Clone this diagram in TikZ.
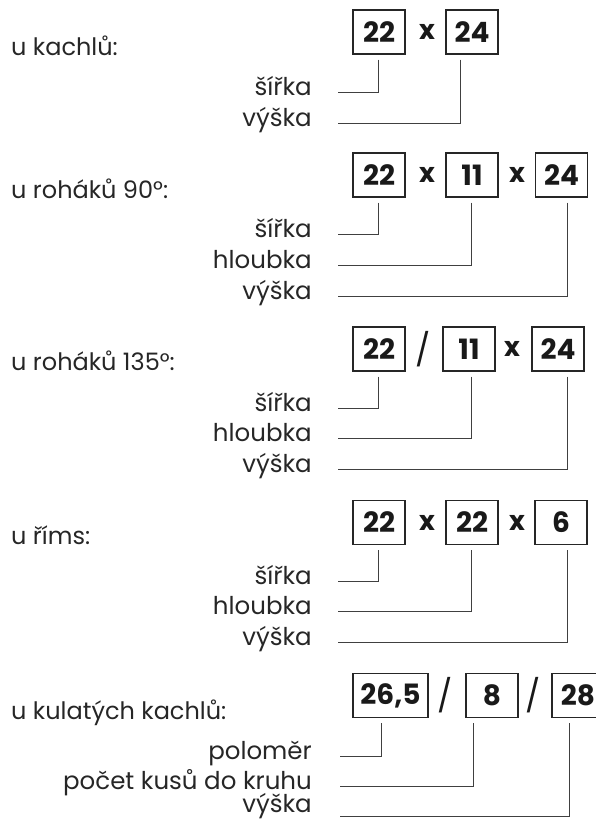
\documentclass[tikz,border=0pt]{standalone}
\usepackage{fontspec}
\setmainfont{Poppins}
\usetikzlibrary{calc}
\begin{document}
\begin{tikzpicture}[x=1pt,y=-1pt,
  val/.style={draw=black!85,line width=1.2pt,minimum width=52pt,minimum height=44pt,inner sep=0pt,font=\fontsize{28}{28}\selectfont\bfseries,text=black!90},
  op/.style={font=\fontsize{27}{27}\selectfont\bfseries,text=black!90,inner sep=0pt},
  sl/.style={font=\fontsize{32}{32}\selectfont,text=black!90,inner sep=0pt},
  head/.style={anchor=base west,font=\fontsize{24}{24}\selectfont,text=black!85,inner sep=0pt},
  lab/.style={anchor=base east,font=\fontsize{24.5}{24.5}\selectfont,text=black!85,inner sep=0pt},
  lead/.style={draw=black!75,line width=0.9pt}]
\useasboundingbox (0,0) rectangle (595,819);

% ---- section 1
\node[head] (h1) at (11,55) {u kachlů:};
\node[val] (a1) at (379,32) {22};
\node[op]  (ax1) at (427,32) {x};
\node[val] (a2) at (472,32) {24};
\node[lab] (al1) at (312,95) {šířka};
\node[lab] (al2) at (312,126) {výška};
\coordinate (ak1) at (378,92);  \coordinate (ae1) at (338,92);
\coordinate (ak2) at (460,123); \coordinate (ae2) at (338,123);
\draw[lead] ($(ak1 |- a1.south)+(0,5)$) -- (ak1) -- (ae1);
\draw[lead] ($(ak2 |- a2.south)+(0,5)$) -- (ak2) -- (ae2);

% ---- section 2
\node[head] (h2) at (11,198) {u roháků 90°:};
\node[val] (b1) at (379,175) {22};
\node[op]  (bx1) at (427,175) {x};
\node[val] (b2) at (472,175) {11};
\node[op]  (bx2) at (517,175) {x};
\node[val] (b3) at (561.5,175) {24};
\node[lab] (bl1) at (312,237) {šířka};
\node[lab] (bl2) at (312,268) {hloubka};
\node[lab] (bl3) at (312,299) {výška};
\coordinate (bk1) at (378,234); \coordinate (be1) at (338,234);
\coordinate (bk2) at (471,265); \coordinate (be2) at (338,265);
\coordinate (bk3) at (567,296); \coordinate (be3) at (338,296);
\draw[lead] ($(bk1 |- b1.south)+(0,5)$) -- (bk1) -- (be1);
\draw[lead] ($(bk2 |- b2.south)+(0,5)$) -- (bk2) -- (be2);
\draw[lead] ($(bk3 |- b3.south)+(0,5)$) -- (bk3) -- (be3);

% ---- section 3
\node[head] (h3) at (11,370) {u roháků 135°:};
\node[val] (c1) at (379,349) {22};
\node[sl]  (cx1) at (423,349) {/};
\node[val] (c2) at (469,349) {11};
\node[op]  (cx2) at (512,349) {x};
\node[val] (c3) at (558,349) {24};
\node[lab] (cl1) at (312,411) {šířka};
\node[lab] (cl2) at (312,441) {hloubka};
\node[lab] (cl3) at (312,472) {výška};
\coordinate (ck1) at (378,408); \coordinate (ce1) at (338,408);
\coordinate (ck2) at (471,438); \coordinate (ce2) at (338,438);
\coordinate (ck3) at (567,469); \coordinate (ce3) at (338,469);
\draw[lead] ($(ck1 |- c1.south)+(0,5)$) -- (ck1) -- (ce1);
\draw[lead] ($(ck2 |- c2.south)+(0,5)$) -- (ck2) -- (ce2);
\draw[lead] ($(ck3 |- c3.south)+(0,5)$) -- (ck3) -- (ce3);

% ---- section 4
\node[head] (h4) at (11,544) {u říms:};
\node[val] (d1) at (379,522.5) {22};
\node[op]  (dx1) at (427,522.5) {x};
\node[val] (d2) at (472,522.5) {22};
\node[op]  (dx2) at (517,522.5) {x};
\node[val] (d3) at (561,522.5) {6};
\node[lab] (dl1) at (312,584) {šířka};
\node[lab] (dl2) at (312,614) {hloubka};
\node[lab] (dl3) at (312,645) {výška};
\coordinate (dk1) at (378,581); \coordinate (de1) at (338,581);
\coordinate (dk2) at (471,611); \coordinate (de2) at (338,611);
\coordinate (dk3) at (567,642); \coordinate (de3) at (338,642);
\draw[lead] ($(dk1 |- d1.south)+(0,5)$) -- (dk1) -- (de1);
\draw[lead] ($(dk2 |- d2.south)+(0,5)$) -- (dk2) -- (de2);
\draw[lead] ($(dk3 |- d3.south)+(0,5)$) -- (dk3) -- (de3);

% ---- section 5
\node[head] (h5) at (11,719) {u kulatých kachlů:};
\node[val,minimum width=75pt] (e1) at (390.5,695.5) {26,5};
\node[sl]  (ex1) at (445,695.5) {/};
\node[val] (e2) at (492,695.5) {8};
\node[sl]  (ex2) at (533,695.5) {/};
\node[val] (e3) at (578,695.5) {28};
\node[lab] (el1) at (312,759) {poloměr};
\node[lab] (el2) at (312,789) {počet kusů do kruhu};
\node[lab] (el3) at (312,812) {výška};
\coordinate (ek1) at (381,756); \coordinate (ee1) at (340,756);
\coordinate (ek2) at (473,786); \coordinate (ee2) at (340,786);
\coordinate (ek3) at (569,816); \coordinate (ee3) at (340,816);
\draw[lead] ($(ek1 |- e1.south)+(0,5)$) -- (ek1) -- (ee1);
\draw[lead] ($(ek2 |- e2.south)+(0,5)$) -- (ek2) -- (ee2);
\draw[lead] ($(ek3 |- e3.south)+(0,5)$) -- (ek3) -- (ee3);
\end{tikzpicture}
\end{document}
